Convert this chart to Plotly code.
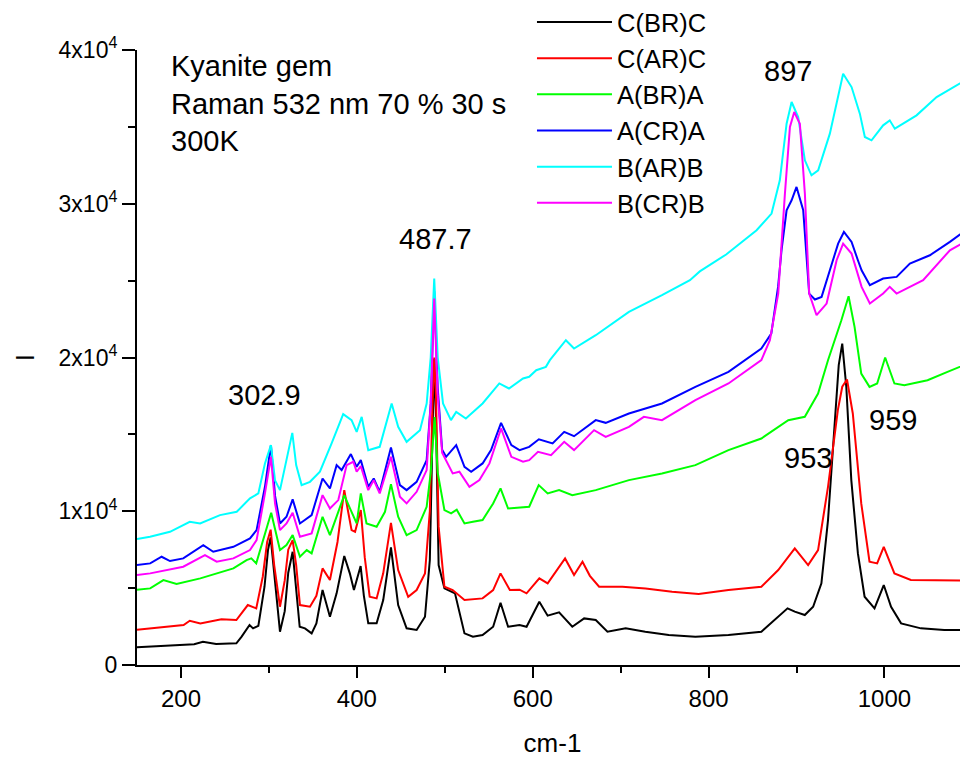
import plotly.graph_objects as go

# ---------------- data ----------------
cbrc_x = [150, 165, 185, 203, 215, 225, 240, 255, 263, 269, 278, 282, 288, 295, 299, 302, 306, 312.6, 318, 322, 327, 331, 335,
          341, 348.6, 354, 361, 369.4, 377, 385.7, 392, 396.7, 404.3, 408, 413, 422.5, 430, 438.8, 447, 456.6, 468, 477.5, 483,
          486, 488, 490, 493, 499.6, 511.6, 522.4, 532, 543, 555, 563.4, 572, 585, 593, 607.5, 617, 630, 645, 658.5, 671.7,
          685, 705.7, 728, 754.7, 785, 822.6, 860, 875.5, 889.8, 898, 909.4, 918.9, 928.3, 935.8, 943.4, 948, 952, 956.6, 962.3,
          969.8, 977.4, 988.7, 999.2, 1007.5, 1018.9, 1041.5, 1068, 1095]
cbrc_y = [1150, 1190, 1250, 1300, 1350, 1516, 1365, 1400, 1408, 1842, 2600, 2383, 2550, 5090, 7500, 8300, 6000, 2165, 3500, 6000,
          7365, 5000, 2490, 2383, 2058, 2708, 4875, 3140, 4660, 7085, 5960, 4875, 6435, 4500, 2708, 2708, 4225, 7650, 3900, 2383,
          2275, 3140, 6825, 15000, 19900, 16000, 6500, 4983, 4660, 2058, 1842, 1950, 2490, 4050, 2490, 2600, 2490, 4117, 3207,
          3423, 2490, 3030, 2925, 2167, 2383, 2167, 1950, 1842, 1950, 2167, 2925, 3683, 3467, 3250, 3790, 5308, 9425, 15925,
          19500, 20900, 18093, 12025, 7258, 4442, 3683, 5200, 3790, 2708, 2383, 2275, 2275]

carc_x = [150, 165, 185, 203, 210, 222, 246, 263, 276, 285.6, 293, 298, 302, 306, 312.6, 318, 322, 327, 331, 335.3, 346.7, 354,
          361, 369.4, 378, 385.7, 390, 394, 398, 404.5, 409, 414.6, 422.5, 430, 438.8, 447, 458.4, 468, 477.5, 483, 486, 488,
          490, 493, 499.6, 509, 522.4, 543, 555, 563.4, 574, 585, 593, 607.5, 617, 636.8, 647, 656.6, 665, 675.5, 702, 728.3,
          758.5, 788.7, 822.6, 860, 879.2, 898, 913.2, 924.5, 935.8, 947, 952, 957.4, 964, 973.6, 983, 991.7, 999.2, 1011.3, 1030,
          1068, 1095]
carc_y = [2300, 2383, 2500, 2600, 2880, 2708, 2968, 2925, 3900, 3683, 5740, 8000, 8800, 6500, 3790, 5500, 7500, 8125, 6500, 3900,
          3790, 4500, 6283, 5525, 8000, 11375, 10000, 8775, 8660, 10075, 7000, 4440, 4333, 5960, 9250, 6175, 4440, 4875, 5960,
          10000, 17000, 20000, 17500, 9000, 5090, 4875, 4225, 4333, 4875, 5960, 4875, 4900, 4660, 5633, 5308, 6933, 5850, 6716,
          5800, 5090, 5090, 4983, 4767, 4615, 4875, 5090, 6175, 7583, 6500, 7475, 11590, 16575, 18100, 18570, 16358, 10510, 6716,
          6608, 7690, 5958, 5525, 5482, 5482]

abra_x = [150, 165, 180, 195, 222, 240.6, 259.6, 274.6, 280, 285.6, 295, 302.6, 312.6, 320, 327, 335.3, 343, 348.6, 361, 369.4,
          378.9, 385.7, 392.2, 399.8, 404.5, 411, 422.5, 432, 438.8, 447, 456.6, 468, 479.4, 484, 488.5, 492, 499.6, 507.2,
          513.6, 522.4, 532, 543, 555, 563.4, 572, 589, 596, 606.8, 617, 630, 645, 671.7, 709.4, 747, 785, 822.6, 860, 890.6,
          909.4, 924.5, 935.8, 951, 959.2, 966, 973.6, 983, 991.7, 1000.8, 1011.3, 1022.6, 1049, 1071.7, 1095]
abra_y = [4900, 4983, 5525, 5265, 5633, 5960, 6283, 6825, 6933, 6608, 8340, 9900, 7475, 7800, 8450, 7040, 7475, 7258, 9640, 8450,
          9965, 11050, 10180, 9207, 11158, 9207, 8990, 9965, 11765, 9640, 8450, 8775, 10290, 12500, 16120, 12500, 10075, 9857,
          10100, 9207, 9315, 9425, 10510, 11485, 10180, 10290, 10292, 11700, 11158, 11375, 11050, 11375, 12025, 12460, 13000,
          13975, 14733, 15925, 16140, 17660, 19825, 22425, 23985, 21990, 18950, 18090, 18310, 20000, 18310, 18200, 18525,
          19070, 19610]

acra_x = [150, 165, 178, 187.5, 202.6, 225.4, 236.7, 259.6, 278.5, 286, 295.5, 302.3, 307, 312.6, 320, 327, 335.3, 348.6, 361,
          369.4, 377, 382.7, 393.2, 399.8, 404.5, 413, 419.2, 426, 438.8, 449, 456.6, 468, 479.4, 484, 488, 492, 497, 501.5,
          513, 522.4, 530, 543, 552.6, 564, 575.7, 585, 596, 607, 622.6, 635.8, 647, 671.7, 683, 709.4, 747, 785, 822.6, 860,
          871.3, 879, 883, 888.7, 894.4, 900, 907.6, 914.4, 920.9, 928.5, 937.9, 947.3, 953.9, 962.6, 969.8, 974, 983.4,
          998.5, 1013.8, 1028.9, 1051.6, 1074.4, 1095]
acra_y = [6500, 6608, 7040, 6760, 6933, 7800, 7365, 7690, 8233, 8775, 11590, 14300, 11000, 9207, 9640, 10770, 9207, 9750, 12130,
          11485, 13000, 12680, 13720, 12890, 13325, 11590, 12130, 11265, 14150, 11700, 11375, 11915, 13325, 17000, 24300,
          18000, 14000, 13540, 14300, 12890, 12570, 13110, 13975, 15750, 14300, 13975, 14190, 14680, 14410, 15165, 14880,
          15925, 15750, 16358, 17010, 18090, 19070, 20585, 21560, 24590, 27000, 29575, 30225, 31092, 29575, 24158, 23770,
          23942, 25675, 27408, 28167, 27517, 26325, 25675, 24700, 25133, 25242, 26108, 26650, 27517, 28383]

barb_x = [150, 164.8, 187.5, 210, 221.8, 244.4, 263.4, 278.5, 288, 295.5, 302.3, 307, 312.6, 321, 326.6, 331, 337.2, 346.7, 358,
          371.3, 384.5, 394, 399.8, 405.5, 413, 426, 439.6, 447, 456.6, 471.8, 479.4, 484, 488, 492, 498, 507, 513, 524, 543,
          562, 573, 589, 596, 604, 615, 619.5, 637.7, 647, 671.7, 709.4, 747, 778.8, 790, 820, 854.6, 871.6, 881, 888.7, 894.4,
          901.9, 909.5, 917, 924.6, 937.9, 947.3, 953, 962.6, 972, 977.7, 985.3, 998.5, 1006, 1011.8, 1036.5, 1059.3, 1082,
          1095]
barb_y = [8200, 8340, 8665, 9315, 9207, 9750, 9965, 10835, 11160, 13110, 14300, 12000, 11375, 13540, 15100, 13000, 11700, 11915,
          12570, 14410, 16315, 15925, 15165, 16140, 13975, 14190, 17010, 15490, 14515, 15275, 17010, 20000, 25133, 20000, 17010,
          15925, 16465, 16030, 17010, 18310, 17985, 18635, 18742, 19175, 19392, 19825, 21125, 20583, 21450, 22967, 24050, 25025,
          25600, 26700, 28275, 29360, 31525, 35210, 36617, 35640, 32825, 31850, 32175, 34560, 36942, 38460, 37590, 35860,
          34340, 34125, 35100, 35425, 34883, 35750, 36942, 37700, 38135]

bcrb_x = [150, 165, 202.6, 227.3, 240.6, 259.6, 278.5, 286, 295.5, 302.3, 307, 312.6, 320, 327, 335.3, 348.6, 361, 369.4, 378.9,
          388.4, 396, 399.8, 404.5, 413, 419.2, 426, 438.8, 449, 456.6, 468, 479.4, 484, 488, 492, 497, 501.5, 509, 516.6, 528,
          539.4, 550.8, 564, 575.7, 589, 596, 606, 620.8, 635.8, 647, 669.8, 683, 709.4, 726.4, 747, 785, 822.6, 860, 869.7,
          879.2, 886.8, 892.5, 897.4, 903.8, 909.5, 914.4, 922.8, 934.2, 945.6, 953, 962.6, 974, 983.4, 998.5, 1006, 1013.8,
          1044, 1074.4, 1095]
bcrb_y = [5850, 5960, 6390, 7150, 6716, 6933, 7475, 8125, 11160, 13540, 10500, 8775, 9207, 9900, 8340, 8560, 11050, 10180, 10725,
          13000, 13220, 12570, 12935, 11375, 12025, 11160, 13540, 10940, 10510, 11265, 12675, 17000, 23833, 17500, 13800, 13325,
          12460, 12570, 11590, 12025, 13110, 15385, 13540, 13220, 13325, 13865, 13650, 14515, 13975, 15275, 14840, 15490,
          16140, 15925, 17225, 18310, 19825, 21125, 24158, 30658, 34990, 35967, 35200, 30658, 24158, 22750, 23508, 26325,
          27408, 26758, 24592, 23508, 24158, 24592, 24158, 25025, 26975, 27625]

series_names = ["C(BR)C", "C(AR)C", "A(BR)A", "A(CR)A", "B(AR)B", "B(CR)B"]
series_x = [cbrc_x, carc_x, abra_x, acra_x, barb_x, bcrb_x]
series_y = [cbrc_y, carc_y, abra_y, acra_y, barb_y, bcrb_y]
series_colors = ["#000000", "#FF0000", "#00FF00", "#0000FF", "#00FFFF", "#FF00FF"]

y_tickvals = [0, 10000, 20000, 30000, 40000]
y_ticktext = ["0", "1x10<sup>4</sup>", "2x10<sup>4</sup>", "3x10<sup>4</sup>", "4x10<sup>4</sup>"]

peak_labels = ["302.9", "487.7", "897", "953", "959"]
peak_label_x = [295.5, 490, 890, 913, 1009.6]
peak_label_y = [17550, 27690, 38610, 13455, 15925]

info_text = "Kyanite gem<br>Raman 532 nm 70 % 30 s<br>300K"

FONT = "Liberation Sans, Arial, sans-serif"

fig = go.Figure()
for name, xs, ys, col in zip(series_names, series_x, series_y, series_colors):
    fig.add_trace(go.Scatter(x=xs, y=ys, mode="lines", name=name,
                             line=dict(color=col, width=2)))

for t, px_, py_ in zip(peak_labels, peak_label_x, peak_label_y):
    fig.add_annotation(x=px_, y=py_, xref="x", yref="y", text=t, showarrow=False,
                       xanchor="center", yanchor="middle", font=dict(size=29, color="black", family=FONT))

fig.add_annotation(x=186, y=36530, xref="x", yref="y", text=info_text, showarrow=False, align="left",
                   xanchor="left", yanchor="middle", font=dict(size=29, color="black", family=FONT))

# the page body adds an 8 px offset, so the figure is 8 px smaller and margins are shifted
fig.update_layout(
    width=960, height=750,
    margin=dict(l=129, r=0, t=41.5, b=93, autoexpand=False),
    paper_bgcolor="white", plot_bgcolor="white",
    font=dict(family=FONT, color="black"),
    showlegend=True,
    legend=dict(x=0.4753, y=1.083, xanchor="left", yanchor="top", bgcolor="rgba(0,0,0,0)",
                font=dict(size=25.5, family=FONT, color="black"), itemwidth=75, tracegroupgap=0),
    xaxis=dict(range=[150, 1095], showline=True, linewidth=2, linecolor="black", mirror=False,
               ticks="outside", ticklen=11, tickwidth=2, tickcolor="black", tick0=0, dtick=200,
               showgrid=False, zeroline=False, tickfont=dict(size=24, family=FONT), automargin=False,
               minor=dict(ticks="outside", ticklen=6, tickwidth=2, tickcolor="black", dtick=100, showgrid=False),
               title=dict(text="cm-1", font=dict(size=26, family=FONT), standoff=28)),
    yaxis=dict(range=[0, 40000], showline=True, linewidth=2, linecolor="black", mirror=False,
               ticks="outside", ticklen=13, tickwidth=2, tickcolor="black",
               tickvals=y_tickvals, ticktext=y_ticktext, showgrid=False, zeroline=False,
               tickfont=dict(size=23, family=FONT), automargin=False,
               minor=dict(ticks="outside", ticklen=7, tickwidth=2, tickcolor="black", dtick=5000, showgrid=False),
               title=dict(text="I", font=dict(size=26, family=FONT), standoff=16)),
)

fig.write_html("out.html")
